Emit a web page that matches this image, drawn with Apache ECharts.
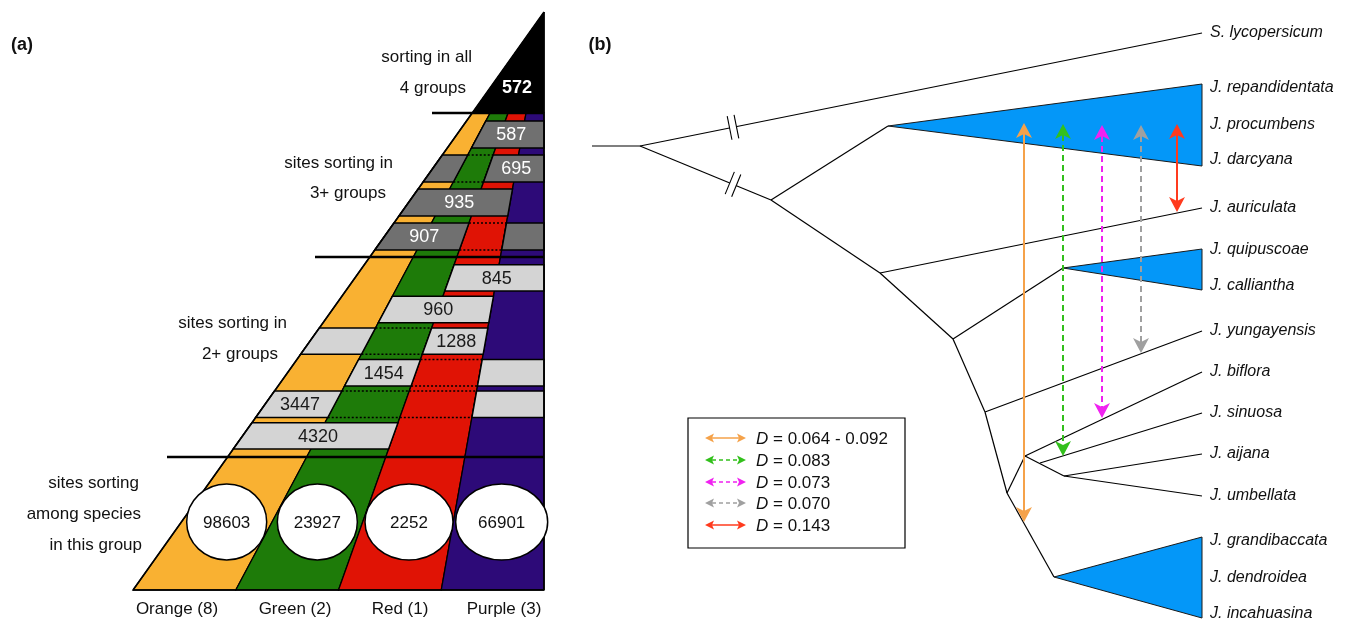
<!DOCTYPE html>
<html><head><meta charset="utf-8">
<script src="https://cdn.jsdelivr.net/npm/echarts@6/dist/echarts.min.js"></script>
<style>html,body{margin:0;padding:0;background:#fff}#chart{width:1352px;height:620px}</style>
</head><body><div id="chart"></div>
<script>
// ---------------- DATA ----------------
const groupNames = ['Orange (8)', 'Green (2)', 'Red (1)', 'Purple (3)'];
const sortingWithinGroup = [98603, 23927, 2252, 66901];
const sortingInAll = 572;
const threePlusCounts = [587, 695, 935, 907];
const threePlusGroups = [[1, 2, 3], [0, 2, 3], [0, 1, 2], [0, 1, 3]];
const threePlusLabelGroup = [1, 2, 0, 0];
const twoPlusCounts = [845, 960, 1288, 1454, 3447, 4320];
const twoPlusGroups = [[2, 3], [1, 2], [0, 2], [1, 3], [0, 3], [0, 1]];
const twoPlusLabelGroup = [2, 1, 2, 1, 0, 0];
const sectionTexts = [
  ['sorting in all', '4 groups'],
  ['sites sorting in', '3+ groups'],
  ['sites sorting in', '2+ groups'],
  ['sites sorting', 'among species', 'in this group']
];
const taxa = ['S. lycopersicum', 'J. repandidentata', 'J. procumbens', 'J. darcyana', 'J. auriculata',
  'J. quipuscoae', 'J. calliantha', 'J. yungayensis', 'J. biflora', 'J. sinuosa', 'J. aijana',
  'J. umbellata', 'J. grandibaccata', 'J. dendroidea', 'J. incahuasina'];
const dValues = ['0.064 - 0.092', '0.083', '0.073', '0.070', '0.143'];

// ---------------- LAYOUT / STYLE ----------------
const groupColors = ['#f9b132', '#1e7b09', '#e01305', '#2d0a78'];
const darkGray = '#707070', lightGray = '#d4d4d4';
const FONT = 'Liberation Sans, Arial, sans-serif';
const LA = { apexX: 544, apexY: 12, base: 590, left: 133, right: 544, cut: 113 };
const sec3 = { top: 114, pitch: 34, strip: 7 };
const sec2 = { top: 259.5, pitch: 31.6, strip: 5.2 };
const dividers = [[113, 432], [257, 315], [457, 167]];
const sectionTextPos = [
  [[472, 57], [466, 88]],
  [[393, 163], [386, 193]],
  [[287, 323], [278, 354]],
  [[139, 483], [141, 514], [142, 545]]
];
const ellipseLayout = { y: 522, ry: 38, rx: [40, 40, 44, 46], dx: [0, 0, 1, 3] };
const groupLabelX = [177, 295, 400, 504];

// tree layout
const tipX = 1202, labelX = 1210;
const taxaY = [33, 88, 125, 160, 208, 250, 286, 331, 372, 413, 454, 496, 541, 578, 614];
const nodes = {
  r0: [592, 146], R: [640, 146], A: [771, 200], c1: [888, 126], C: [880, 273], D: [953, 339],
  c2: [1063, 268], E: [985, 412], F: [1007, 493], G: [1025, 456], I: [1040, 463], H: [1064, 476], J: [1054, 577]
};
const edges = [['r0', 'R'], ['R', 0], ['R', 'A'], ['A', 'c1'], ['A', 'C'], ['C', 4], ['C', 'D'], ['D', 'c2'],
  ['D', 'E'], ['E', 7], ['E', 'F'], ['F', 'G'], ['G', 8], ['G', 'H'], ['I', 9], ['H', 10], ['H', 11], ['F', 'J']];
const clades = [['c1', 84, 166], ['c2', 249, 290], ['J', 537, 618]];
const breaks = [[1, 733], [2, 733]];
const arrowColors = ['#f5a24a', '#33c01c', '#f022f0', '#a0a0a0', '#ff3b1e'];
const arrowDash = [false, true, true, true, false];
const arrowX = [1024, 1063, 1102, 1141, 1177];
const arrowY1 = [123, 124, 125, 125, 124];
const arrowY2 = [522, 456, 418, 353, 212];
const legendBox = [688, 418, 905, 548];
const legendRowY = [438, 460, 482, 503, 525];

// ---------------- RENDER ----------------
function renderAll(params, api) {
  const ch = [];
  const P = (x, y) => api.coord([x, y]);
  const add = el => { el.z2 = ch.length; ch.push(el); };
  const poly = (pts, fill, stroke, lw) => add({ type: 'polygon', shape: { points: pts.map(p => P(p[0], p[1])) },
    style: { fill: fill, stroke: stroke || null, lineWidth: lw || 0, lineJoin: 'miter' } });
  const seg = (x1, y1, x2, y2, stroke, lw, dash) => {
    const a = P(x1, y1), b = P(x2, y2);
    add({ type: 'line', shape: { x1: a[0], y1: a[1], x2: b[0], y2: b[1] },
      style: { stroke: stroke, lineWidth: lw, lineDash: dash || null, lineCap: 'butt' } });
  };
  const txt = (s, x, y, o) => {
    const p = P(x, y);
    add({ type: 'text', style: Object.assign({ text: s, x: p[0], y: p[1], fill: '#111', fontSize: 17,
      fontFamily: FONT, align: 'center', verticalAlign: 'middle' }, o || {}) });
  };

  // ---- panel (a)
  const bx = i => LA.left + (LA.right - LA.left) * i / 4;
  const colX = (i, y) => LA.apexX + (bx(i) - LA.apexX) * (y - LA.apexY) / (LA.base - LA.apexY);
  const quad = (c0, c1, y1, y2) => [[colX(c0, y1), y1], [colX(c1, y1), y1], [colX(c1, y2), y2], [colX(c0, y2), y2]];

  for (let c = 0; c < 4; c++) poly(quad(c, c + 1, LA.cut, LA.base), groupColors[c], '#000', 1.3);

  function drawRows(sec, counts, sets, labelGroups, boxFill, textFill) {
    counts.forEach((val, r) => {
      const top = sec.top + r * sec.pitch;
      const y1 = top + sec.strip, y2 = top + sec.pitch;
      const set = sets[r].slice().sort();
      const runs = [];
      set.forEach(c => {
        const last = runs[runs.length - 1];
        if (last && last[1] === c - 1) last[1] = c; else runs.push([c, c]);
      });
      runs.forEach(run => {
        poly(quad(run[0], run[1] + 1, y1, y2), boxFill, '#000', 1.5);
      });
      for (let c = set[0]; c <= set[set.length - 1]; c++) {
        if (set.indexOf(c) < 0) {
          seg(colX(c, y1), y1, colX(c + 1, y1), y1, '#000', 1.5, [2, 2]);
          seg(colX(c, y2), y2, colX(c + 1, y2), y2, '#000', 1.5, [2, 2]);
        }
      }
      const run = runs.find(rn => labelGroups[r] >= rn[0] && labelGroups[r] <= rn[1]);
      const ym = (y1 + y2) / 2;
      const xm = (colX(run[0], ym) + colX(run[1] + 1, ym)) / 2;
      txt(String(val), xm, ym + 1, { fill: textFill, fontSize: 18 });
    });
  }
  drawRows(sec3, threePlusCounts, threePlusGroups, threePlusLabelGroup, darkGray, '#ffffff');
  drawRows(sec2, twoPlusCounts, twoPlusGroups, twoPlusLabelGroup, lightGray, '#1a1a1a');

  // black apex triangle
  poly([[LA.apexX, LA.apexY], [LA.apexX, LA.cut], [colX(0, LA.cut), LA.cut]], '#000', '#000', 1);
  txt(String(sortingInAll), 517, 88, { fill: '#fff', fontWeight: 'bold', fontSize: 18 });

  // dividers
  dividers.forEach(d => seg(d[1], d[0], LA.right, d[0], '#000', 2.6));
  // outline
  seg(LA.left, LA.base, LA.apexX, LA.apexY, '#000', 1.5);
  seg(LA.right, LA.apexY, LA.right, LA.base, '#000', 1.6);
  seg(LA.left, LA.base, LA.right, LA.base, '#000', 1.5);

  // ellipses
  sortingWithinGroup.forEach((v, c) => {
    const ey = ellipseLayout.y;
    const cx = (colX(c, ey) + colX(c + 1, ey)) / 2 + ellipseLayout.dx[c];
    const p = P(cx, ey);
    add({ type: 'ellipse', shape: { cx: p[0], cy: p[1], rx: ellipseLayout.rx[c], ry: ellipseLayout.ry },
      style: { fill: '#fff', stroke: '#000', lineWidth: 1.5 } });
    txt(String(v), cx, ey + 1, { fontSize: 17 });
  });

  sectionTexts.forEach((lines, s) => lines.forEach((t, i) => {
    const pos = sectionTextPos[s][i];
    txt(t, pos[0], pos[1], { align: 'right' });
  }));
  groupNames.forEach((g, c) => txt(g, groupLabelX[c], 609));
  txt('(a)', 22, 45, { fontWeight: 'bold', fontSize: 18 });
  txt('(b)', 600, 45, { fontWeight: 'bold', fontSize: 18 });

  // ---- panel (b)
  const pt = k => typeof k === 'number' ? [tipX, taxaY[k]] : nodes[k];
  clades.forEach(cl => {
    const a = nodes[cl[0]];
    poly([a, [tipX, cl[1]], [tipX, cl[2]]], '#0497f8', '#1a1a1a', 1);
  });
  edges.forEach(e => {
    const a = pt(e[0]), b = pt(e[1]);
    seg(a[0], a[1], b[0], b[1], '#000', 1.2);
  });
  breaks.forEach(bk => {
    const e = edges[bk[0]];
    const a = pt(e[0]), b = pt(e[1]);
    const t = (bk[1] - a[0]) / (b[0] - a[0]);
    const cx = a[0] + t * (b[0] - a[0]), cy = a[1] + t * (b[1] - a[1]);
    const len = Math.hypot(b[0] - a[0], b[1] - a[1]);
    const dx = (b[0] - a[0]) / len, dy = (b[1] - a[1]) / len;
    const nx = -dy, ny = dx;
    const g = 3.5, h = 12;
    poly([[cx - dx * g + nx * 3, cy - dy * g + ny * 3], [cx + dx * g + nx * 3, cy + dy * g + ny * 3],
      [cx + dx * g - nx * 3, cy + dy * g - ny * 3], [cx - dx * g - nx * 3, cy - dy * g - ny * 3]], '#fff', null, 0);
    [-g, g].forEach(o => {
      const px = cx + dx * o, py = cy + dy * o;
      seg(px + nx * h, py + ny * h, px - nx * h, py - ny * h, '#000', 1.1);
    });
  });

  function arrow(x1, y1, x2, y2, color, lw, dash, L, hw, notch) {
    const len = Math.hypot(x2 - x1, y2 - y1);
    const dx = (x2 - x1) / len, dy = (y2 - y1) / len;
    const nx = -dy, ny = dx;
    const back = L - notch;
    seg(x1 + dx * back, y1 + dy * back, x2 - dx * back, y2 - dy * back, color, lw, dash);
    [[x1, y1, -1], [x2, y2, 1]].forEach(h => {
      const tx = h[0], ty = h[1], s = h[2];
      const ux = dx * s, uy = dy * s;
      poly([[tx, ty], [tx - ux * L + nx * hw, ty - uy * L + ny * hw], [tx - ux * (L - notch), ty - uy * (L - notch)],
        [tx - ux * L - nx * hw, ty - uy * L - ny * hw]], color, null, 0);
    });
  }
  arrowX.forEach((x, i) => {
    arrow(x, arrowY1[i], x, arrowY2[i], arrowColors[i], 2, arrowDash[i] ? [6, 4] : null, 15, 8, 4);
  });

  // legend
  const lb = legendBox;
  poly([[lb[0], lb[1]], [lb[2], lb[1]], [lb[2], lb[3]], [lb[0], lb[3]]], '#fff', '#000', 1.2);
  dValues.forEach((v, i) => {
    const y = legendRowY[i];
    arrow(705, y, 746, y, arrowColors[i], 1.5, arrowDash[i] ? [4, 3] : null, 9, 4.5, 2);
    const p = P(756, y + 1);
    add({ type: 'text', style: { text: '{i|D} = ' + v, x: p[0], y: p[1], fill: '#111', fontSize: 17,
      fontFamily: FONT, align: 'left', verticalAlign: 'middle',
      rich: { i: { fontStyle: 'italic', fontSize: 17, fontFamily: FONT, fill: '#111' } } } });
  });

  taxa.forEach((t, i) => txt(t, labelX, taxaY[i], { align: 'left', fontStyle: 'italic', fontSize: 16 }));

  return { type: 'group', children: ch };
}

const chart = echarts.init(document.getElementById('chart'), null, { renderer: 'canvas' });
chart.setOption({
  animation: false,
  backgroundColor: '#fff',
  grid: { left: 0, right: 0, top: 0, bottom: 0 },
  xAxis: { type: 'value', min: 0, max: 1352, show: false },
  yAxis: { type: 'value', min: 0, max: 620, inverse: true, show: false },
  series: [{ type: 'custom', clip: false, data: [[0, 0]], renderItem: renderAll, silent: true }]
});
</script></body></html>
